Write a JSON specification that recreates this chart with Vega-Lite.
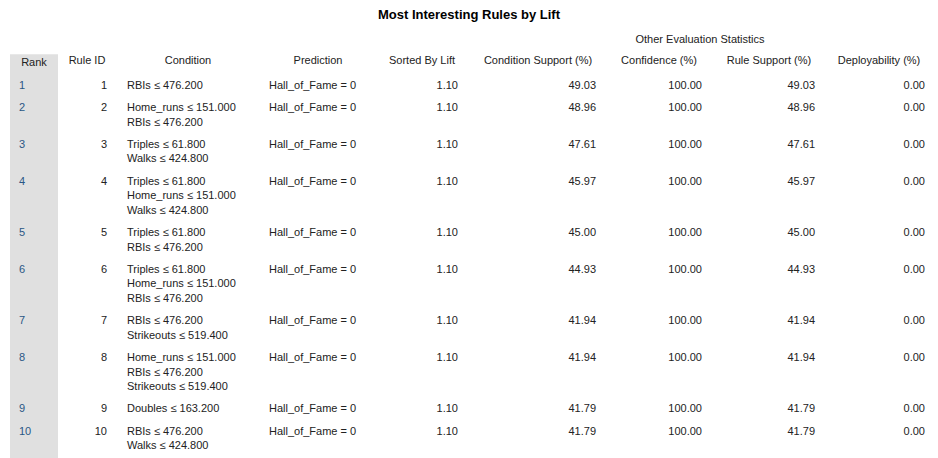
{
  "$schema": "https://vega.github.io/schema/vega-lite/v6.json",
  "width": 938,
  "height": 458,
  "autosize": "none",
  "padding": 0,
  "background": "white",
  "resolve": {"scale": {"x": "shared", "y": "shared"}},
  "layer": [
    {
      "data": {"values": [{"k": 1}]},
      "layer": [
        {
          "mark": {"type": "rect", "color": "#e0e0e0"},
          "encoding": {
            "x": {"datum": 10, "type": "quantitative", "scale": {"domain": [0, 938], "nice": false, "zero": false}, "axis": null},
            "x2": {"datum": 58},
            "y": {"datum": -1.76, "type": "quantitative", "scale": {"domain": [-5.45, 25.71], "reverse": true, "nice": false, "zero": false}, "axis": null},
            "y2": {"datum": 25.9}
          }
        },
        {"mark": {"type": "text", "align": "center", "baseline": "middle", "fontSize": 13, "fontWeight": "bold", "color": "#000"}, "encoding": {"x": {"datum": 469}, "y": {"datum": -4.45}, "text": {"value": "Most Interesting Rules by Lift"}}},
        {"mark": {"type": "text", "align": "center", "baseline": "middle"}, "encoding": {"x": {"datum": 700}, "y": {"datum": -2.72}, "text": {"value": "Other Evaluation Statistics"}}},
        {"mark": {"type": "text", "align": "center", "baseline": "middle"}, "encoding": {"x": {"datum": 34}, "y": {"datum": -1.15}, "text": {"value": "Rank"}}},
        {"mark": {"type": "text", "align": "center", "baseline": "middle"}, "encoding": {"x": {"datum": 87}, "y": {"datum": -1.3}, "text": {"value": "Rule ID"}}},
        {"mark": {"type": "text", "align": "center", "baseline": "middle"}, "encoding": {"x": {"datum": 188}, "y": {"datum": -1.3}, "text": {"value": "Condition"}}},
        {"mark": {"type": "text", "align": "center", "baseline": "middle"}, "encoding": {"x": {"datum": 318}, "y": {"datum": -1.3}, "text": {"value": "Prediction"}}},
        {"mark": {"type": "text", "align": "center", "baseline": "middle"}, "encoding": {"x": {"datum": 422}, "y": {"datum": -1.3}, "text": {"value": "Sorted By Lift"}}},
        {"mark": {"type": "text", "align": "center", "baseline": "middle"}, "encoding": {"x": {"datum": 538}, "y": {"datum": -1.3}, "text": {"value": "Condition Support (%)"}}},
        {"mark": {"type": "text", "align": "center", "baseline": "middle"}, "encoding": {"x": {"datum": 659}, "y": {"datum": -1.3}, "text": {"value": "Confidence (%)"}}},
        {"mark": {"type": "text", "align": "center", "baseline": "middle"}, "encoding": {"x": {"datum": 769}, "y": {"datum": -1.3}, "text": {"value": "Rule Support (%)"}}},
        {"mark": {"type": "text", "align": "center", "baseline": "middle"}, "encoding": {"x": {"datum": 879}, "y": {"datum": -1.3}, "text": {"value": "Deployability (%)"}}}
      ]
    },
    {
      "data": {
        "values": [
          {"rank": 1, "rule": 1, "cond": "RBIs ≤ 476.200", "pred": "Hall_of_Fame = 0", "lift": 1.10, "csup": 49.03, "conf": 100, "rsup": 49.03, "deploy": 0, "lines": 1},
          {"rank": 2, "rule": 2, "cond": "Home_runs ≤ 151.000\nRBIs ≤ 476.200", "pred": "Hall_of_Fame = 0", "lift": 1.10, "csup": 48.96, "conf": 100, "rsup": 48.96, "deploy": 0, "lines": 2},
          {"rank": 3, "rule": 3, "cond": "Triples ≤ 61.800\nWalks ≤ 424.800", "pred": "Hall_of_Fame = 0", "lift": 1.10, "csup": 47.61, "conf": 100, "rsup": 47.61, "deploy": 0, "lines": 2},
          {"rank": 4, "rule": 4, "cond": "Triples ≤ 61.800\nHome_runs ≤ 151.000\nWalks ≤ 424.800", "pred": "Hall_of_Fame = 0", "lift": 1.10, "csup": 45.97, "conf": 100, "rsup": 45.97, "deploy": 0, "lines": 3},
          {"rank": 5, "rule": 5, "cond": "Triples ≤ 61.800\nRBIs ≤ 476.200", "pred": "Hall_of_Fame = 0", "lift": 1.10, "csup": 45.00, "conf": 100, "rsup": 45.00, "deploy": 0, "lines": 2},
          {"rank": 6, "rule": 6, "cond": "Triples ≤ 61.800\nHome_runs ≤ 151.000\nRBIs ≤ 476.200", "pred": "Hall_of_Fame = 0", "lift": 1.10, "csup": 44.93, "conf": 100, "rsup": 44.93, "deploy": 0, "lines": 3},
          {"rank": 7, "rule": 7, "cond": "RBIs ≤ 476.200\nStrikeouts ≤ 519.400", "pred": "Hall_of_Fame = 0", "lift": 1.10, "csup": 41.94, "conf": 100, "rsup": 41.94, "deploy": 0, "lines": 2},
          {"rank": 8, "rule": 8, "cond": "Home_runs ≤ 151.000\nRBIs ≤ 476.200\nStrikeouts ≤ 519.400", "pred": "Hall_of_Fame = 0", "lift": 1.10, "csup": 41.94, "conf": 100, "rsup": 41.94, "deploy": 0, "lines": 3},
          {"rank": 9, "rule": 9, "cond": "Doubles ≤ 163.200", "pred": "Hall_of_Fame = 0", "lift": 1.10, "csup": 41.79, "conf": 100, "rsup": 41.79, "deploy": 0, "lines": 1},
          {"rank": 10, "rule": 10, "cond": "RBIs ≤ 476.200\nWalks ≤ 424.800", "pred": "Hall_of_Fame = 0", "lift": 1.10, "csup": 41.79, "conf": 100, "rsup": 41.79, "deploy": 0, "lines": 2}
        ]
      },
      "transform": [
        {"calculate": "datum.lines + 0.5", "as": "h"},
        {"window": [{"op": "sum", "field": "h", "as": "cum"}], "sort": [{"field": "rank"}], "frame": [null, 0]},
        {"calculate": "datum.cum - datum.h", "as": "y"}
      ],
      "encoding": {
        "y": {"field": "y", "type": "quantitative"}
      },
      "layer": [
        {"mark": {"type": "text", "align": "left", "baseline": "top", "color": "#2a5785"}, "encoding": {"x": {"datum": 19, "type": "quantitative"}, "text": {"field": "rank"}}},
        {"mark": {"type": "text", "align": "right", "baseline": "top"}, "encoding": {"x": {"datum": 107, "type": "quantitative"}, "text": {"field": "rule"}}},
        {"mark": {"type": "text", "align": "left", "baseline": "top", "lineBreak": "\n", "lineHeight": 14.5}, "encoding": {"x": {"datum": 127, "type": "quantitative"}, "text": {"field": "cond"}}},
        {"mark": {"type": "text", "align": "left", "baseline": "top"}, "encoding": {"x": {"datum": 269, "type": "quantitative"}, "text": {"field": "pred"}}},
        {"mark": {"type": "text", "align": "right", "baseline": "top"}, "encoding": {"x": {"datum": 458, "type": "quantitative"}, "text": {"field": "lift", "format": ".2f"}}},
        {"mark": {"type": "text", "align": "right", "baseline": "top"}, "encoding": {"x": {"datum": 596, "type": "quantitative"}, "text": {"field": "csup", "format": ".2f"}}},
        {"mark": {"type": "text", "align": "right", "baseline": "top"}, "encoding": {"x": {"datum": 702, "type": "quantitative"}, "text": {"field": "conf", "format": ".2f"}}},
        {"mark": {"type": "text", "align": "right", "baseline": "top"}, "encoding": {"x": {"datum": 815, "type": "quantitative"}, "text": {"field": "rsup", "format": ".2f"}}},
        {"mark": {"type": "text", "align": "right", "baseline": "top"}, "encoding": {"x": {"datum": 925, "type": "quantitative"}, "text": {"field": "deploy", "format": ".2f"}}}
      ]
    }
  ],
  "config": {
    "view": {"stroke": null},
    "axis": {"disable": true},
    "text": {"font": "Liberation Sans", "fontSize": 11, "color": "#222"}
  }
}
